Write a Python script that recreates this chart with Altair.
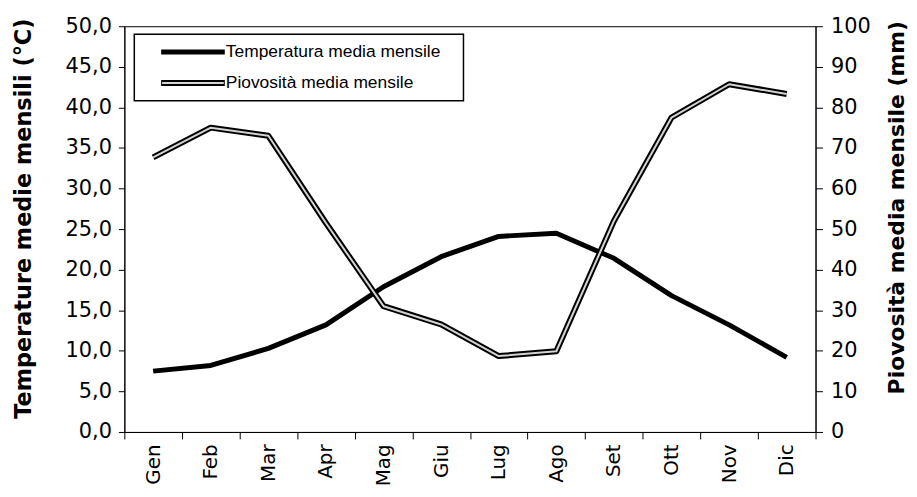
import altair as alt
import pandas as pd

months = ["Gen", "Feb", "Mar", "Apr", "Mag", "Giu", "Lug", "Ago", "Set", "Ott", "Nov", "Dic"]
temperature = [7.5, 8.2, 10.3, 13.2, 17.9, 21.6, 24.1, 24.5, 21.4, 16.8, 13.2, 9.2]
rainfall = [67.7, 75.0, 73.0, 51.5, 31.0, 26.5, 18.7, 19.9, 52.0, 77.5, 85.7, 83.3]
temp_ticks = [0, 5, 10, 15, 20, 25, 30, 35, 40, 45, 50]
rain_ticks = [0, 10, 20, 30, 40, 50, 60, 70, 80, 90, 100]
legend_labels = ["Temperatura media mensile", "Piovosità media mensile"]
left_title = "Temperature medie mensili (°C)"
right_title = "Piovosità media mensile (mm)"

df = pd.DataFrame({"mese": months, "temp": temperature, "pioggia": rainfall})

FONT = "Liberation Sans"
AXFONT = "DejaVu Sans"
W, H = 695, 408

x_enc = alt.X(
    "mese:N", sort=months, bandPosition=0.5,
    scale=alt.Scale(type="band", paddingInner=0, paddingOuter=0),
    axis=alt.Axis(title=None, labelAngle=270, tickBand="extent", labelFontSize=20,
                  labelFont=AXFONT, labelColor="black", tickSize=7, labelPadding=5,
                  domainColor="black", tickColor="black"),
)

temp_line = alt.Chart(df).mark_line(color="black", strokeWidth=5, strokeJoin="round").encode(
    x=x_enc,
    y=alt.Y("temp:Q", scale=alt.Scale(domain=[0, 50], nice=False),
            axis=alt.Axis(orient="left", values=temp_ticks,
                          labelExpr="replace(format(datum.value, '.1f'), '.', ',')",
                          labelFontSize=21, labelFont=AXFONT, labelColor="black",
                          tickSize=6, labelPadding=7, domainColor="black", tickColor="black",
                          title=left_title, titleFont=AXFONT, titleFontSize=22.5,
                          titleFontWeight="bold", titleColor="black", titleAngle=270,
                          titleBaseline="alphabetic", titleX=-94, titleY=193)),
)

rain_scale = alt.Scale(domain=[0, 100], nice=False)
rain_axis = alt.Axis(orient="right", values=rain_ticks, format="d",
                     labelFontSize=21, labelFont=AXFONT, labelColor="black",
                     tickSize=7, labelPadding=8, domainColor="black", tickColor="black",
                     title=right_title, titleFont=AXFONT, titleFontSize=22,
                     titleFontWeight="bold", titleColor="black", titleAngle=270,
                     titleBaseline="alphabetic", titleX=88, titleY=182)
rain_outer = alt.Chart(df).mark_line(color="black", strokeWidth=6, strokeJoin="round").encode(
    x=x_enc,
    y=alt.Y("pioggia:Q", scale=rain_scale, axis=rain_axis),
)
rain_inner = alt.Chart(df).mark_line(color="#d4d4d4", strokeWidth=2, strokeJoin="round").encode(
    x=x_enc,
    y=alt.Y("pioggia:Q", scale=rain_scale, axis=rain_axis),
)
rain = alt.layer(rain_outer, rain_inner)

one = pd.DataFrame({"k": [0]})
box = alt.Chart(one).mark_rect(fill="white", stroke="black", strokeWidth=1.5).encode(
    x=alt.value(10), x2=alt.value(341), y=alt.value(8), y2=alt.value(75)
)
sym1 = alt.Chart(one).mark_rule(color="black", strokeWidth=5).encode(
    x=alt.value(37), x2=alt.value(101), y=alt.value(26)
)
sym2a = alt.Chart(one).mark_rule(color="black", strokeWidth=6).encode(
    x=alt.value(37), x2=alt.value(101), y=alt.value(57)
)
sym2b = alt.Chart(one).mark_rule(color="#d4d4d4", strokeWidth=2).encode(
    x=alt.value(38), x2=alt.value(100), y=alt.value(57)
)
lab1 = alt.Chart(pd.DataFrame({"t": [legend_labels[0]]})).mark_text(
    align="left", baseline="middle", fontSize=17.5, font=FONT, color="black"
).encode(text="t:N", x=alt.value(102), y=alt.value(26))
lab2 = alt.Chart(pd.DataFrame({"t": [legend_labels[1]]})).mark_text(
    align="left", baseline="middle", fontSize=17.5, font=FONT, color="black"
).encode(text="t:N", x=alt.value(102), y=alt.value(57))

chart = alt.layer(
    temp_line, rain, box, sym1, sym2a, sym2b, lab1, lab2
).resolve_scale(y="independent").properties(
    width=W, height=H,
    padding={"left": 117, "top": 17, "right": 94, "bottom": 52},
    autosize=alt.AutoSizeParams(type="none"),
).configure_view(stroke="black", strokeWidth=1).configure_axis(grid=False)

chart.save("out.html", embed_options={"renderer": "svg", "actions": False})
